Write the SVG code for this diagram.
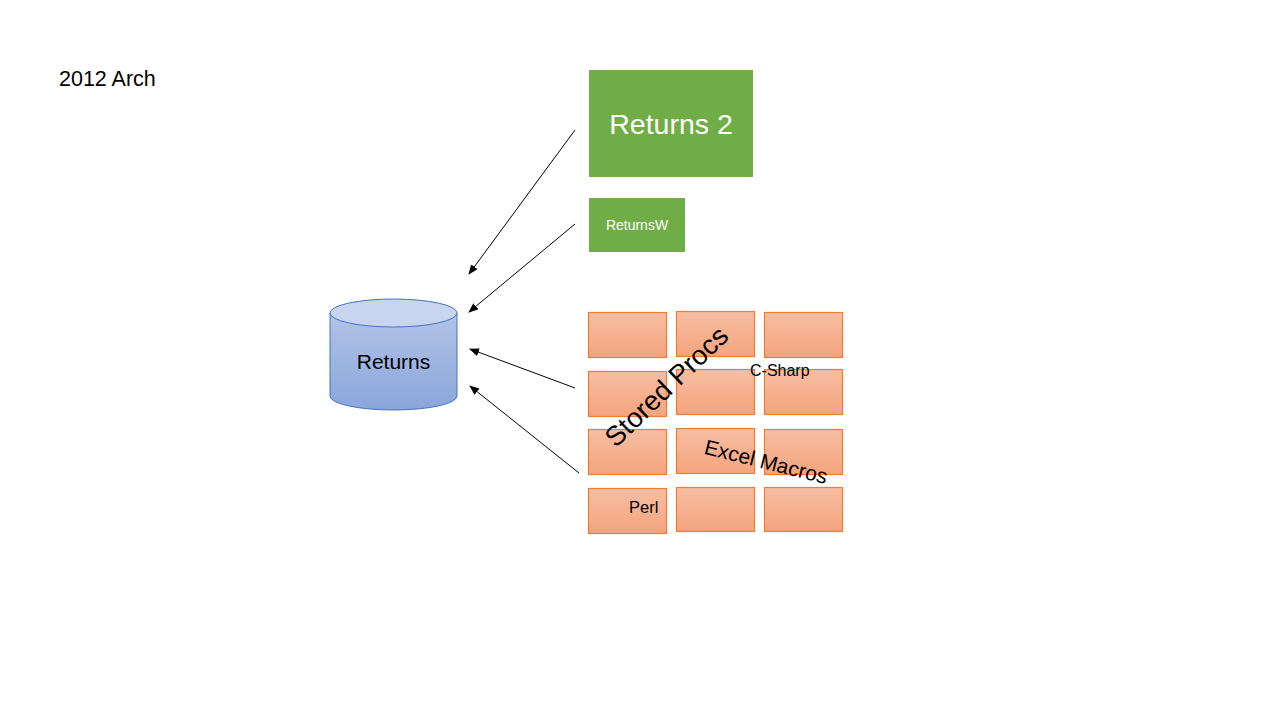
<svg xmlns="http://www.w3.org/2000/svg" width="1280" height="720" viewBox="0 0 1280 720">
<defs>
<linearGradient id="og" x1="0" y1="0" x2="0" y2="1"><stop offset="0" stop-color="#f7bea3"/><stop offset="1" stop-color="#f4a47d"/></linearGradient>
<linearGradient id="bg" x1="0" y1="0" x2="0" y2="1"><stop offset="0" stop-color="#b1c3e6"/><stop offset="1" stop-color="#8ca6db"/></linearGradient>
<marker id="ah" markerWidth="10" markerHeight="8" refX="9" refY="4" orient="auto" markerUnits="userSpaceOnUse"><path d="M0,0 L10,4 L0,8 z" fill="#000"/></marker>
<style>
.t{font-family:"Liberation Sans",Arial,sans-serif;}
.brick{fill:url(#og);stroke:#ed7d31;stroke-width:1.2;}
.green{fill:#70ad47;}
.conn{stroke:#000;stroke-width:1;fill:none;marker-end:url(#ah);}
</style>
</defs>
<rect width="1280" height="720" fill="#fff"/>
<text class="t" x="59" y="86" font-size="21.5">2012 Arch</text>
<g id="returns-db">
<path d="M330,313 L330,396 A63.5,14 0 0 0 457,396 L457,313" fill="url(#bg)" stroke="#4472c4" stroke-width="1"/>
<ellipse cx="393.5" cy="313" rx="63.5" ry="14" fill="#c9d5ee" stroke="#4472c4" stroke-width="1"/>
<text class="t" x="393.5" y="369" font-size="21" text-anchor="middle">Returns</text>
</g>
<g id="returns2">
<rect class="green" x="589" y="70" width="164" height="107"/>
<text class="t" x="671" y="134" font-size="28.5" fill="#fff" text-anchor="middle">Returns 2</text>
</g>
<g id="returnsw">
<rect class="green" x="589" y="198" width="96" height="54"/>
<text class="t" x="637" y="230" font-size="14" fill="#fff" text-anchor="middle">ReturnsW</text>
</g>
<g id="bricks">
<rect class="brick" x="588.5" y="312.5" width="78" height="45"/>
<rect class="brick" x="676.5" y="311.5" width="78" height="45"/>
<rect class="brick" x="764.5" y="312.5" width="78" height="45"/>
<rect class="brick" x="588.5" y="371.5" width="78" height="45"/>
<rect class="brick" x="676.5" y="369.5" width="78" height="45"/>
<rect class="brick" x="764.5" y="369.5" width="78" height="45"/>
<rect class="brick" x="588.5" y="429.5" width="78" height="45"/>
<rect class="brick" x="676.5" y="428.5" width="78" height="45"/>
<rect class="brick" x="764.5" y="429.5" width="78" height="45"/>
<rect class="brick" x="588.5" y="488.5" width="78" height="45"/>
<rect class="brick" x="676.5" y="487.5" width="78" height="44"/>
<rect class="brick" x="764.5" y="487.5" width="78" height="44"/>
</g>
<g id="labels">
<text class="t" font-size="27.5" text-anchor="middle" transform="translate(666,386) rotate(-44)" y="10">Stored Procs</text>
<text class="t" font-size="21" text-anchor="middle" transform="translate(766,462) rotate(14)" y="7">Excel Macros</text>
<text class="t" x="750" y="376" font-size="16">C-Sharp</text>
<text class="t" x="629" y="513" font-size="16.5">Perl</text>
</g>
<g id="connectors">
<line class="conn" x1="575" y1="130" x2="469" y2="274"/>
<line class="conn" x1="575" y1="224" x2="469" y2="312"/>
<line class="conn" x1="575" y1="388" x2="470" y2="349"/>
<line class="conn" x1="579" y1="473" x2="470" y2="386"/>
</g>
</svg>
